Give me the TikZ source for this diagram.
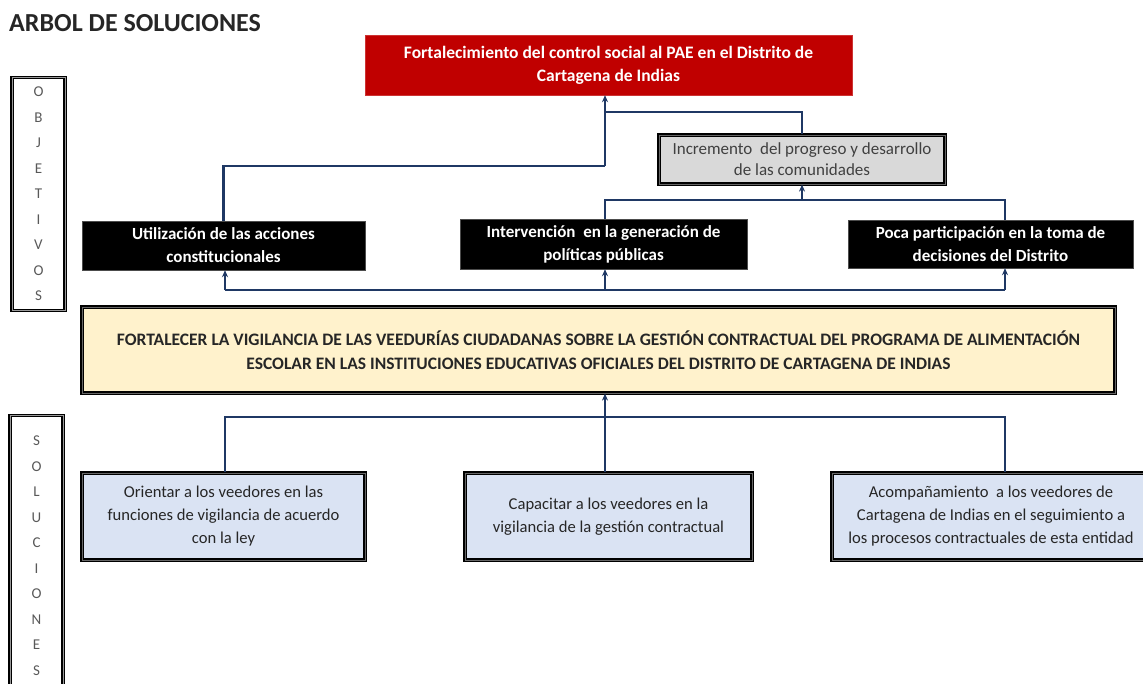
\documentclass[tikz,border=0pt]{standalone}
\usepackage{fontspec}
\setmainfont{Carlito}
\usetikzlibrary{arrows.meta}
\definecolor{navy}{HTML}{1F3864}
\definecolor{redbox}{HTML}{C00000}
\definecolor{beige}{HTML}{FFF2CC}
\definecolor{lblue}{HTML}{DAE3F3}
\definecolor{lgray}{HTML}{D9D9D9}
\definecolor{txtgray}{HTML}{404040}
\tikzset{
  box/.style={rectangle, align=center, inner sep=2pt, anchor=center},
  redstyle/.style={box, fill=redbox, draw=redbox!80!white, text=white, font=\fontsize{17.5}{23}\selectfont\bfseries},
  blackbox/.style={box, fill=black, draw=black!70, text=white, font=\fontsize{17}{23}\selectfont\bfseries},
  graybox/.style={box, fill=lgray, draw=black, double=black!60, double distance=0.8pt, line width=1.2pt, text=txtgray, font=\fontsize{17}{21}\selectfont},
  beigebox/.style={box, fill=beige, draw=black, double=black!60, double distance=0.8pt, line width=1.2pt, text=black!85, font=\fontsize{17.5}{24}\selectfont\bfseries},
  bluebox/.style={box, fill=lblue, draw=black, double=black!60, double distance=0.8pt, line width=1.2pt, text=black!85, font=\fontsize{16.6}{23}\selectfont},
  sidebox/.style={box, draw=black, double=black!40, double distance=0.8pt, line width=1.2pt, text=black!65, font=\fontsize{15}{25.5}\selectfont, anchor=north},
  conn/.style={draw=navy, line width=2.2pt},
  arr/.style={conn, -{Stealth[length=7pt,width=6pt]}},
}
\begin{document}
\begin{tikzpicture}[x=1pt,y=-1pt]
\useasboundingbox (0,0) rectangle (1143,683);
\node[anchor=west, font=\fontsize{26}{30}\selectfont\bfseries, text=black!85, inner sep=0pt] (title) at (9,23) {ARBOL DE SOLUCIONES};

\node[sidebox, minimum width=53pt, minimum height=233pt] (obj) at (38.5,77) {O\\B\\J\\E\\T\\I\\V\\O\\S};
\node[sidebox, minimum width=53pt, minimum height=280pt] (sol) at (36.5,415) {S\\O\\L\\U\\C\\I\\O\\N\\E\\S};

\node[redstyle, minimum width=487pt, minimum height=60pt] (red) at (608.5,65) {Fortalecimiento del control social al PAE en el Distrito de\\Cartagena de Indias};
\node[graybox, minimum width=286pt, minimum height=49pt] (gray) at (802,159.5) {Incremento\ \ del progreso y desarrollo\\de las comunidades};

\node[blackbox, minimum width=283pt, minimum height=49pt] (util) at (223.5,245.5) {Utilización de las acciones\\constitucionales};
\node[blackbox, minimum width=287pt, minimum height=50pt] (interv) at (603.5,244) {Intervención\ \ en la generación de\\políticas públicas};
\node[blackbox, minimum width=285pt, minimum height=48pt] (poca) at (990.5,244) {Poca participación en la toma de\\decisiones del Distrito};

\node[beigebox, minimum width=1033pt, minimum height=86pt] (beige) at (598.5,350) {FORTALECER LA VIGILANCIA DE LAS VEEDURÍAS CIUDADANAS SOBRE LA GESTIÓN CONTRACTUAL DEL PROGRAMA DE ALIMENTACIÓN\\ESCOLAR EN LAS INSTITUCIONES EDUCATIVAS OFICIALES DEL DISTRITO DE CARTAGENA DE INDIAS};

\node[bluebox, minimum width=283pt, minimum height=87pt] (orient) at (223.5,516.5) {Orientar a los veedores en las\\funciones de vigilancia de acuerdo\\con la ley};
\node[bluebox, minimum width=287pt, minimum height=87pt] (capac) at (608.5,516.5) {Capacitar a los veedores en la\\vigilancia de la gestión contractual};
\node[bluebox, minimum width=318pt, minimum height=87pt] (acomp) at (991,516.5) {Acompañamiento\ \ a los veedores de\\Cartagena de Indias en el seguimiento a\\los procesos contractuales de esta entidad};

% upper connectors
\coordinate (j1) at (605,166);
\coordinate (j2) at (605,112);
\draw[conn] (util.north) |- (j1);
\draw[arr] (j1) -- (j1|-red.south);
\draw[conn] (gray.north) |- (j2);

\coordinate (m1) at (605,200);
\coordinate (m2) at (1005,200);
\coordinate (m3) at (gray.south|-m1);
\draw[conn] (m1|-interv.north) -- (m1) -- (m2) -- (m2|-poca.north);
\draw[arr] (m3) -- (gray.south);

\coordinate (b1) at (225,290);
\coordinate (b2) at (605,290);
\coordinate (b3) at (1005,290);
\draw[conn] (b1) -- (b3);
\draw[arr] (b1) -- (b1|-util.south);
\draw[arr] (b2) -- (b2|-interv.south);
\draw[arr] (b3) -- (b3|-poca.south);

% lower connectors
\coordinate (l1) at (225,417);
\coordinate (l2) at (605,417);
\coordinate (l3) at (1005,417);
\draw[conn] (l1|-orient.north) -- (l1) -- (l3) -- (l3|-acomp.north);
\draw[arr] (l2|-capac.north) -- (l2|-beige.south);
\end{tikzpicture}
\end{document}
